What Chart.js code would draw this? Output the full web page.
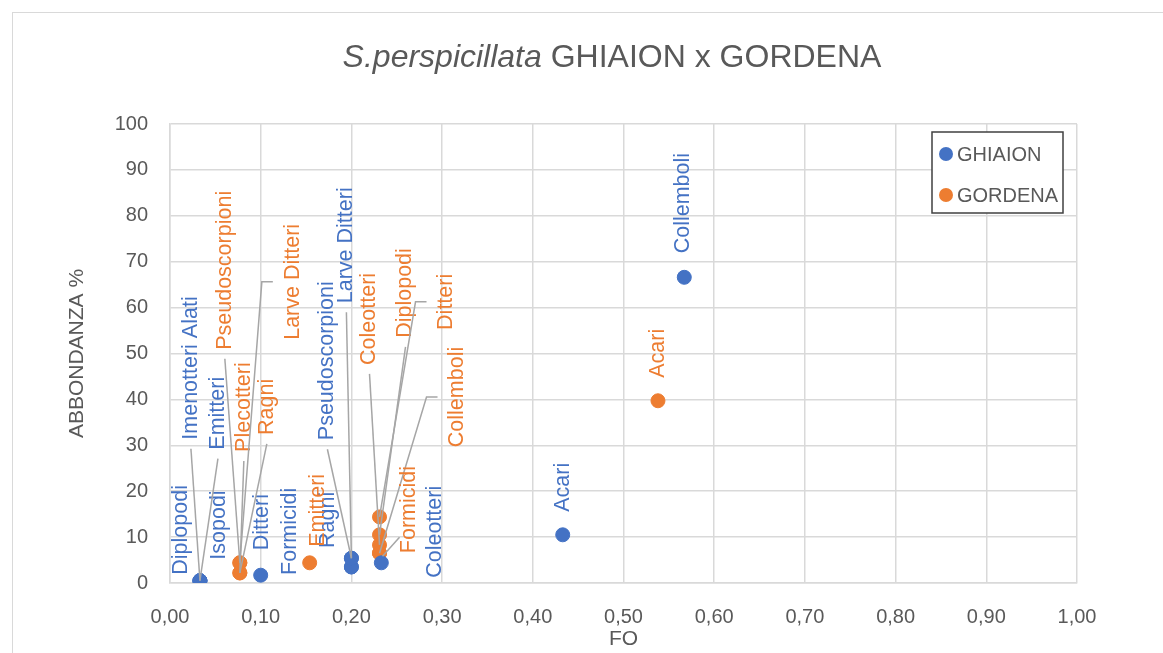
<!DOCTYPE html>
<html>
<head>
<meta charset="utf-8">
<script src="https://cdn.jsdelivr.net/npm/chart.js@4.4.1/dist/chart.umd.min.js"></script>
<style>
    html, body { margin: 0; padding: 0; background: #fff; }
    #wrap { width: 1163px; height: 653px; position: relative; }
</style>
</head>
<body>
<div id="wrap"><canvas id="grafico"></canvas></div>
<script>
// dati
const ghiaionNomi = ["Diplopodi", "Isopodi", "Imenotteri Alati", "Emitteri", "Ditteri", "Formicidi",
    "Ragni", "Pseudoscorpioni", "Larve Ditteri", "Coleotteri", "Acari", "Collemboli"];
const ghiaionFO = [0.033, 0.033, 0.033, 0.033, 0.1, 0.2, 0.2, 0.2, 0.2, 0.233, 0.433, 0.567];
const ghiaionAbb = [0.5, 0.5, 0.5, 0.5, 1.7, 3.5, 3.5, 5.4, 5.4, 4.4, 10.5, 66.6];

const gordenaNomi = ["Pseudoscorpioni", "Plecotteri", "Ragni", "Larve Ditteri", "Emitteri", "Coleotteri",
    "Diplopodi", "Ditteri", "Collemboli", "Formicidi", "Acari"];
const gordenaFO = [0.077, 0.077, 0.077, 0.077, 0.154, 0.231, 0.231, 0.231, 0.231, 0.231, 0.538];
const gordenaAbb = [4.4, 2.2, 2.2, 4.4, 4.4, 8.3, 10.5, 14.4, 6.5, 6.5, 39.7];

const xTicks = [0, 0.1, 0.2, 0.3, 0.4, 0.5, 0.6, 0.7, 0.8, 0.9, 1.0];
const yTicks = [0, 10, 20, 30, 40, 50, 60, 70, 80, 90, 100];

// spostamento delle etichette (px rispetto al punto) e tipo di linea guida
const ghiaionEtichette = [[-19, -6, ""], [19, -21, ""], [-9, -141, "b"], [18, -131, "b"], [1, -25, ""],
    [-61, 8, ""], [-23, -19, ""], [-24, -118, "b"], [-5, -255, "b"], [54, 15, ""], [0, -23, ""], [-1, -24, ""]];
const gordenaEtichette = [[-15, -213, "b"], [4, -121, "b"], [27, -138, "b"], [53, -223, "e"], [8, -16, ""],
    [-10, -180, "b"], [26, -197, "b"], [67, -187, "e"], [78, -106, "e"], [30, 0, "s"], [0, -23, ""]];

const BLU = "#4472C4";
const ARANCIO = "#ED7D31";
const GRIGIO = "#595959";
const FONT = "'Liberation Sans', Arial, sans-serif";

const punti = (fo, abb) => fo.map((v, i) => ({ x: v, y: abb[i] }));
const virgola = (v, d) => v.toFixed(d).replace(".", ",");

// cornice, titolo, titoli assi, legenda
const decorazioni = {
    id: "decorazioni",
    beforeDraw(chart) {
        const ctx = chart.ctx;
        ctx.save();
        ctx.strokeStyle = "#d9d9d9";
        ctx.lineWidth = 1;
        ctx.strokeRect(12.5, 12.5, 1300, 800);
        ctx.restore();
    },
    afterDraw(chart) {
        const ctx = chart.ctx;
        const area = chart.chartArea;
        ctx.save();
        ctx.fillStyle = GRIGIO;

        // titolo con parte in corsivo
        const p1 = "S.perspicillata";
        const p2 = " GHIAION x GORDENA";
        ctx.font = "italic 32px " + FONT;
        const w1 = ctx.measureText(p1).width;
        ctx.font = "32px " + FONT;
        const w2 = ctx.measureText(p2).width;
        let x0 = 612 - (w1 + w2) / 2;
        ctx.textBaseline = "alphabetic";
        ctx.textAlign = "left";
        ctx.font = "italic 32px " + FONT;
        ctx.fillText(p1, x0, 67);
        ctx.font = "32px " + FONT;
        ctx.fillText(p2, x0 + w1, 67);

        // titoli assi
        ctx.font = "21px " + FONT;
        ctx.textAlign = "center";
        ctx.textBaseline = "middle";
        ctx.fillText("FO", (area.left + area.right) / 2, 639);
        ctx.save();
        ctx.translate(77, (area.top + area.bottom) / 2);
        ctx.rotate(-Math.PI / 2);
        ctx.fillText("ABBONDANZA %", 0, 0);
        ctx.restore();

        // legenda
        ctx.fillStyle = "#fff";
        ctx.fillRect(932, 132, 131, 81);
        ctx.strokeStyle = "#404040";
        ctx.lineWidth = 1.5;
        ctx.strokeRect(932, 132, 131, 81);
        const voci = [["GHIAION", BLU, 154], ["GORDENA", ARANCIO, 195]];
        ctx.font = "20px " + FONT;
        ctx.textAlign = "left";
        voci.forEach(([t, c, y]) => {
            ctx.fillStyle = c;
            ctx.beginPath();
            ctx.arc(946, y, 7, 0, Math.PI * 2);
            ctx.fill();
            ctx.fillStyle = GRIGIO;
            ctx.fillText(t, 957, y + 1);
        });
        ctx.restore();
    }
};

// etichette ruotate con linee guida
const etichette = {
    id: "etichette",
    afterDatasetsDraw(chart) {
        const ctx = chart.ctx;
        const gruppi = [[0, ghiaionNomi, ghiaionEtichette, BLU], [1, gordenaNomi, gordenaEtichette, ARANCIO]];
        ctx.save();
        ctx.font = "21.5px " + FONT;
        gruppi.forEach(([ds, nomi, pos, colore]) => {
            const meta = chart.getDatasetMeta(ds);
            meta.data.forEach((el, i) => {
                const [dx, dy, tipo] = pos[i];
                const ax = el.x + dx;
                const ay = el.y + dy;
                const w = ctx.measureText(nomi[i]).width;
                ctx.strokeStyle = "#a6a6a6";
                ctx.lineWidth = 1.5;
                ctx.beginPath();
                if (tipo === "b") {
                    ctx.moveTo(ax, ay + 9);
                    ctx.lineTo(el.x, el.y);
                } else if (tipo === "e") {
                    const my = ay - w / 2;
                    ctx.moveTo(ax - 20, my);
                    ctx.lineTo(ax - 31, my);
                    ctx.lineTo(el.x, el.y);
                } else if (tipo === "s") {
                    ctx.moveTo(ax - 10, ay - 16);
                    ctx.lineTo(el.x + 3, el.y + 3);
                }
                ctx.stroke();

                ctx.save();
                ctx.translate(ax, ay);
                ctx.rotate(-Math.PI / 2);
                ctx.fillStyle = colore;
                ctx.textAlign = "left";
                ctx.textBaseline = "middle";
                ctx.fillText(nomi[i], 0, 0);
                ctx.restore();
            });
        });
        ctx.restore();
    }
};

const grafico = new Chart(document.getElementById("grafico"), {
    type: "scatter",
    data: {
        datasets: [
            {
                label: "GHIAION",
                data: punti(ghiaionFO, ghiaionAbb),
                backgroundColor: BLU,
                borderColor: BLU,
                pointRadius: 7,
                pointHoverRadius: 7,
            },
            {
                label: "GORDENA",
                data: punti(gordenaFO, gordenaAbb),
                backgroundColor: ARANCIO,
                borderColor: ARANCIO,
                pointRadius: 7,
                pointHoverRadius: 7,
            },
        ],
    },
    options: {
        responsive: true,
        maintainAspectRatio: false,
        animation: false,
        layout: { padding: { left: 0, top: 124, right: 86, bottom: 0 } },
        plugins: {
            legend: { display: false },
            tooltip: { enabled: false },
            title: { display: false },
        },
        scales: {
            x: {
                type: "linear",
                min: 0,
                max: 1,
                afterFit: (s) => { s.height = 70; },
                afterBuildTicks: (s) => { s.ticks = xTicks.map((v) => ({ value: v })); },
                grid: { color: "#d9d9d9", lineWidth: 1.5, drawTicks: false },
                border: { color: "#d9d9d9", width: 1.5 },
                ticks: {
                    padding: 22,
                    color: GRIGIO,
                    font: { family: FONT, size: 20 },
                    callback: (v) => virgola(v, 2),
                },
            },
            y: {
                type: "linear",
                min: 0,
                max: 100,
                afterFit: (s) => { s.width = 170; },
                afterBuildTicks: (s) => { s.ticks = yTicks.map((v) => ({ value: v })); },
                grid: { color: "#d9d9d9", lineWidth: 1.5, drawTicks: false },
                border: { color: "#d9d9d9", width: 1.5 },
                ticks: {
                    padding: 22,
                    color: GRIGIO,
                    font: { family: FONT, size: 20 },
                    callback: (v) => String(v),
                },
            },
        },
    },
    plugins: [decorazioni, etichette],
});
</script>
</body>
</html>
